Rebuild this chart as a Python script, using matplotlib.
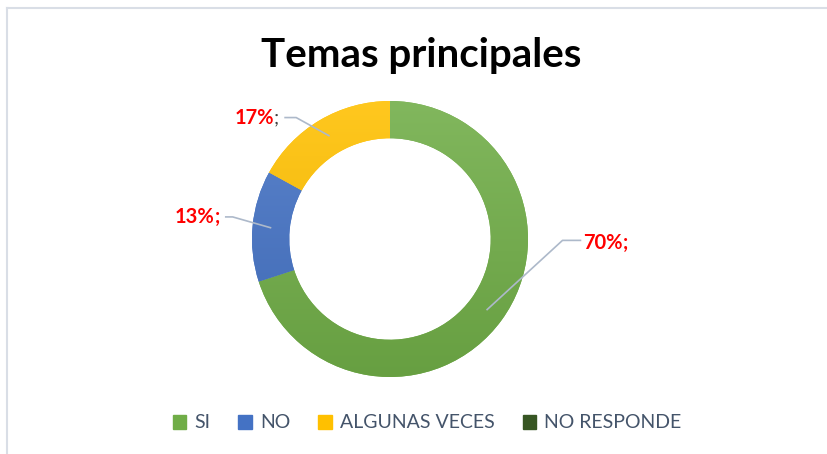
import numpy as np
import matplotlib.pyplot as plt
from matplotlib.lines import Line2D
from matplotlib.colors import to_rgb

plt.rcParams['font.family'] = ['Lato', 'DejaVu Sans']

# Chart data
categories = ['SI', 'NO', 'ALGUNAS VECES', 'NO RESPONDE']
values = [70, 13, 17, 0]
colors = ['#70AD47', '#4472C4', '#FFC000', '#375623']
labels = ['70%;', '13%;', '17%;', None]

# Figure 827x454
fig = plt.figure(figsize=(8.27, 4.54), dpi=100)
W, H = 827, 454

# Donut centre / radius in pixels
cx, cy, r = 390, 239, 138
ax = fig.add_axes([(cx - r) / W, 1 - (cy + r) / H, 2 * r / W, 2 * r / H])

wedges, _ = ax.pie(values, colors=colors, startangle=90, counterclock=False,
                   radius=1.0, wedgeprops=dict(width=0.27, linewidth=0))
ax.set_xlim(-1, 1)
ax.set_ylim(-1, 1)
ax.axis('off')

# Soft vertical gradient on each ring segment (lighter top, darker bottom)
yy = np.linspace(1, 0, 200)[:, None]
for w, c in zip(wedges, colors):
    if w.theta1 == w.theta2:
        continue
    base = np.array(to_rgb(c))
    top = base + (1 - base) * 0.12
    bot = base * 0.92
    grad = (top * yy[..., None] + bot * (1 - yy[..., None])).repeat(2, axis=1)
    im = ax.imshow(grad, extent=[-1, 1, -1, 1], origin='upper', aspect='auto',
                   zorder=w.get_zorder() + 0.1, interpolation='bilinear')
    im.set_clip_path(w)
ax.set_xlim(-1, 1)
ax.set_ylim(-1, 1)

# Data labels with leader lines (elbow offset and text offset, in radius units)
label_layout = {
    0: ((1.25, -0.01), (1.40, -0.03), 'left'),
    1: ((-1.14, 0.16), (-1.21, 0.16), 'right'),
    2: ((-0.68, 0.88), (-0.78, 0.88), 'right'),
}
for i, w in enumerate(wedges):
    if labels[i] is None:
        continue
    mid = np.deg2rad((w.theta1 + w.theta2) / 2)
    px, py = 0.87 * np.cos(mid), 0.87 * np.sin(mid)
    (ex, ey), (tx, ty), ha = label_layout[i]
    end_x = tx - 0.02 if ha == 'left' else tx + 0.02
    ax.plot([px, ex, end_x], [py, ey, ey], color='#ADB9CA', lw=1.2,
            clip_on=False, zorder=5)
    pct = labels[i][:-1]
    if ha == 'left':
        t = ax.text(tx, ty, pct, color='#FF0000', fontsize=14.5, fontweight='bold',
                    ha='left', va='center', clip_on=False)
        ax.annotate(';', xycoords=t, xy=(1, 0.5), va='center', ha='left',
                    color='#FF0000', fontsize=14.5, fontweight='bold')
    else:
        t = ax.text(tx - 0.06, ty, pct, color='#FF0000', fontsize=14.5,
                    fontweight='bold', ha='right', va='center', clip_on=False)
        ax.annotate(';', xycoords=t, xy=(1, 0.5), va='center', ha='left',
                    color='#FF0000' if i == 1 else '#404040', fontsize=14.5,
                    fontweight='bold' if i == 1 else 'normal')

# Title
fig.text(421 / W, 1 - 56 / H, 'Temas principales', ha='center', va='center',
         fontsize=29, fontweight='bold', color='black')

# Legend
handles = [plt.Rectangle((0, 0), 1, 1, color=c) for c in colors]
fig.legend(handles, categories, loc='center', bbox_to_anchor=(427 / W, 1 - 423 / H),
           ncol=4, frameon=False, fontsize=14, handlelength=0.7, handleheight=0.7,
           columnspacing=1.45, handletextpad=0.4, labelcolor='#44546A')

# Chart area border (top and left edges visible)
fig.add_artist(Line2D([7 / W, 7 / W], [0, 1 - 8 / H], transform=fig.transFigure,
                      color='#D9DEE6', lw=1.5))
fig.add_artist(Line2D([7 / W, 1], [1 - 8 / H, 1 - 8 / H], transform=fig.transFigure,
                      color='#D9DEE6', lw=1.5))

fig.savefig('out.png', dpi=100, facecolor='white')
